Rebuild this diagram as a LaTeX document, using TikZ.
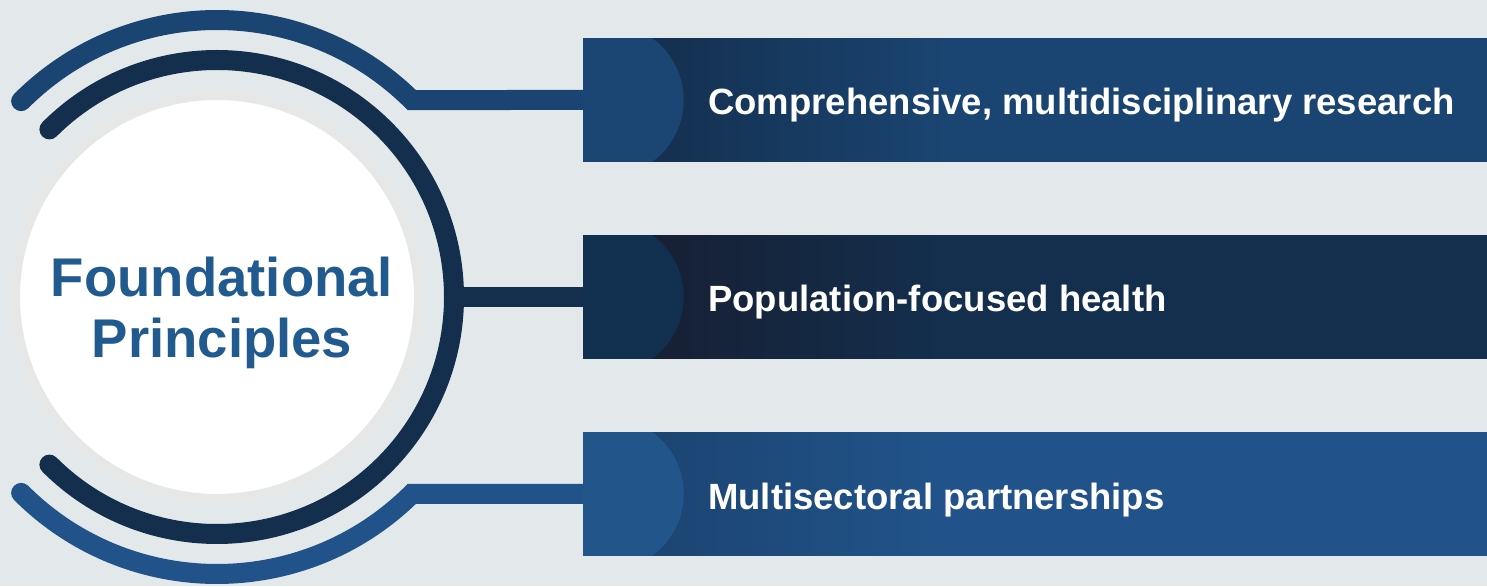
\documentclass[tikz,border=0pt]{standalone}
\usepackage{fontspec}
\setmainfont{Liberation Sans}
\usetikzlibrary{backgrounds}

\definecolor{paper}{HTML}{E3E8EB}
\definecolor{rim}{HTML}{E6E7E7}
\definecolor{titleblue}{HTML}{215A8E}
\definecolor{topbar}{HTML}{1A4471}
\definecolor{topbarcirc}{HTML}{1B4573}
\definecolor{topbarshade}{HTML}{142F4E}
\definecolor{midbar}{HTML}{132F4D}
\definecolor{midbarcirc}{HTML}{11304F}
\definecolor{midbarshade}{HTML}{171F33}
\definecolor{lowbar}{HTML}{21538A}
\definecolor{lowbarcirc}{HTML}{22568B}
\definecolor{lowbarshade}{HTML}{1B4471}

% dark band just right of the bump, fading into the bar colour
\pgfdeclarehorizontalshading{topbarfade}{100bp}{color(0bp)=(topbarshade); color(28.3bp)=(topbarshade);
  color(44.9bp)=(topbar); color(100bp)=(topbar)}
\pgfdeclarehorizontalshading{midbarfade}{100bp}{color(0bp)=(midbarshade); color(28.3bp)=(midbarshade);
  color(44.9bp)=(midbar); color(100bp)=(midbar)}
\pgfdeclarehorizontalshading{lowbarfade}{100bp}{color(0bp)=(lowbarshade); color(28.3bp)=(lowbarshade);
  color(44.9bp)=(lowbar); color(100bp)=(lowbar)}

\tikzstyle{hub}=[circle,fill=white,draw=rim,line width=10pt,minimum size=404pt,inner sep=0pt]
\tikzstyle{hubtext}=[text=titleblue,font=\fontsize{54.5}{61}\selectfont\bfseries,align=center,inner sep=0pt]
\tikzstyle{bartext}=[text=white,font=\fontsize{36.5}{40}\selectfont\bfseries,inner sep=0pt,anchor=base west]
\tikzstyle{arcline}=[line width=20pt,line cap=round]
\tikzset{
  barbox/.style 2 args={rectangle,anchor=west,inner sep=0pt,
    minimum width=904pt,minimum height=123pt,shading=#1,
    path picture={
      \fill[#2] ([xshift=24pt]path picture bounding box.west) circle[radius=76.5pt];
    }},
}

\begin{document}
\begin{tikzpicture}[x=1pt,y=1pt]
  \useasboundingbox (0,0) rectangle (1487,586);

  \node[hub] (hub) at (217,289) {};
  \node[hubtext] (title) at ([xshift=5pt,yshift=-16pt]hub.center) {Foundational\\Principles};

  \foreach \n/\y/\col/\txt in {1/486/topbar/{Comprehensive, multidisciplinary research},
            2/289/midbar/{Population-focused health},
            3/92/lowbar/{Multisectoral partnerships}}
  {
    \node[barbox={\col fade}{\col circ}] (bar\n) at (583,\y) {};
    \node[bartext] (txt\n) at ([xshift=125pt,yshift=-15pt]bar\n.west) {\txt};
  }

  % rings and connectors behind the bars
  \begin{scope}[on background layer]
    \fill[paper] (0,0) rectangle (1487,586);
    \draw[arcline,topbar] ([shift={(135:277)}]hub.center)
      arc[start angle=135,end angle=45.33,radius=277] -- (bar1.west);
    \draw[arcline,midbar] ([shift={(135:237)}]hub.center)
      arc[start angle=135,end angle=-135,radius=237];
    \draw[midbar,line width=20pt] ([xshift=237pt]hub.center) -- (bar2.west);
    \draw[arcline,lowbar] ([shift={(225:277)}]hub.center)
      arc[start angle=225,end angle=314.67,radius=277] -- (bar3.west);
  \end{scope}
\end{tikzpicture}
\end{document}
